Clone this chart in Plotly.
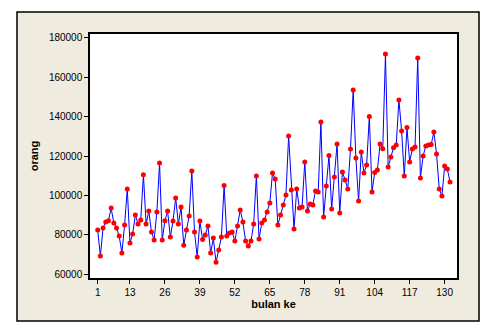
import plotly.graph_objects as go

bulan = list(range(1, 133))
orang = [
    82500, 69300, 83500, 86500, 87200, 93600, 86000, 83500, 79400, 70800,
    85000, 103300, 75900, 80500, 90100, 85500, 87600, 110500, 85500, 92100,
    81500, 77400, 91600, 116400, 77400, 87200, 92100, 78900, 87000, 98700,
    85500, 94100, 74700, 82500, 89600, 112400, 81500, 68800, 87000, 77600,
    80000, 84500, 70800, 78400, 66100, 72400, 78900, 105000, 79400, 81000,
    81500, 76900, 84500, 92600, 86500, 76900, 74400, 76900, 85500, 109900,
    77900, 86000, 87600, 91600, 96200, 111400, 108300, 85000, 90100, 95200,
    100200, 130100, 102800, 83000, 103300, 93600, 94100, 117000, 92100, 95700,
    95200, 102300, 101800, 137200, 89100, 104800, 120200, 93100, 109400, 126100,
    91100, 111900, 107800, 103300, 123600, 153500, 119000, 97200, 122000, 111400,
    115400, 140000, 101800, 111600, 112900, 126100, 123700, 171700, 114400, 119500,
    124200, 125600, 148400, 132700, 109900, 134400, 117000, 123600, 124600, 169700,
    108900, 120000, 125100, 125600, 125800, 132200, 121000, 103300, 99700, 114900,
    113400, 106800,
]
x_ticks = [1, 13, 26, 39, 52, 65, 78, 91, 104, 117, 130]
y_ticks = [60000, 80000, 100000, 120000, 140000, 160000, 180000]

W, H = 495, 335
L, R, T, B = 90, 457, 34, 278
pw, ph = R - L, B - T

def px(xp):
    return (xp - L) / pw

def py(yp):
    return (B - yp) / ph

fig = go.Figure()
fig.add_trace(go.Scatter(
    x=bulan, y=orang, mode="lines+markers",
    line=dict(color="#0000FF", width=1),
    marker=dict(color="#FF0000", size=5, symbol="circle"),
    showlegend=False,
))

fig.add_shape(type="rect", xref="paper", yref="paper",
              x0=px(17), x1=px(479), y0=py(321), y1=py(12),
              fillcolor="#EFEBDF", line=dict(color="black", width=1.5), layer="below")
fig.add_shape(type="rect", xref="paper", yref="paper",
              x0=0, x1=1, y0=0, y1=1,
              fillcolor="white", line=dict(color="black", width=0), layer="below")

axis_font = dict(family="Liberation Sans, Arial, sans-serif", size=10, color="black")
fig.update_layout(
    width=W, height=H,
    margin=dict(l=L, r=W - R, t=T, b=H - B, autoexpand=False),
    paper_bgcolor="white", plot_bgcolor="white",
    font=axis_font,
    xaxis=dict(
        range=[-1.86, 134.6], tickmode="array", tickvals=x_ticks,
        ticktext=[str(v) for v in x_ticks],
        showgrid=False, zeroline=False, showline=True, mirror=True,
        linecolor="black", linewidth=1.5, ticks="outside", ticklen=4,
        tickcolor="black", tickfont=axis_font,
        title=dict(text="bulan ke", font=dict(family="Liberation Sans, Arial, sans-serif",
                   size=11, color="black", weight="bold"), standoff=4),
    ),
    yaxis=dict(
        range=[58140, 181860], tickmode="array", tickvals=y_ticks,
        ticktext=[str(v) for v in y_ticks],
        showgrid=False, zeroline=False, showline=True, mirror=True,
        linecolor="black", linewidth=1.5, ticks="outside", ticklen=4,
        tickcolor="black", tickfont=axis_font,
        title=dict(text="orang", font=dict(family="Liberation Sans, Arial, sans-serif",
                   size=11, color="black", weight="bold"), standoff=8),
    ),
)

fig.write_html("out.html")
